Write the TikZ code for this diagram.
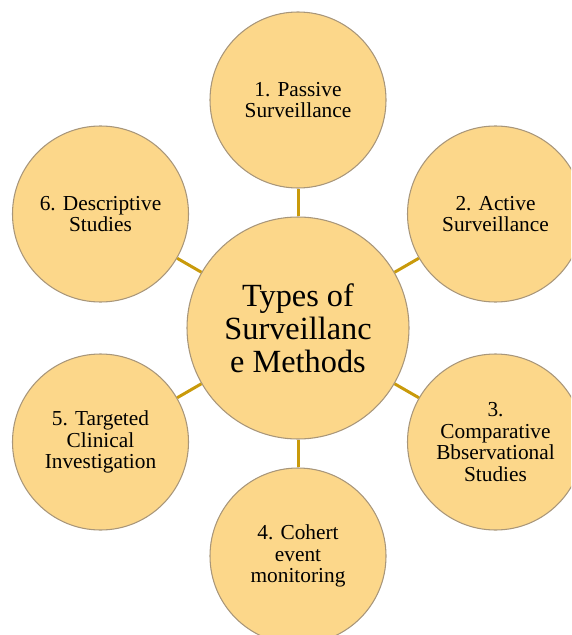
\documentclass[tikz,border=0pt]{standalone}
\usepackage{fontspec}
\setmainfont{Liberation Serif}
\usepackage{xcolor}
\definecolor{petal}{HTML}{FCD78A}
\definecolor{rim}{HTML}{A8967A}
\definecolor{stem}{HTML}{C99A0B}
\usetikzlibrary{positioning,shapes}

\begin{document}
\begin{tikzpicture}[x=0.75pt,y=-0.75pt,
    type/.style={circle,draw=rim,fill=petal,line width=0.8pt,minimum size=132pt,inner sep=0pt,align=center,font=\fontsize{16}{16.25}\selectfont},
    hub/.style={circle,draw=rim,fill=petal,line width=0.8pt,minimum size=166.5pt,inner sep=0pt,align=center,font=\fontsize{24.25}{24.75}\selectfont},
    link/.style={draw=stem,line width=2.25pt}]
\useasboundingbox (0,0) rectangle (571,635);
\clip (0,0) rectangle (571,635);
    \node[hub] (Types) at (298,328) {Types of\\Surveillanc\\e Methods};
    \node[type] (Passive) at (298,100) {1. Passive\\Surveillance};
    \node[type] (Active) at (495.5,214) {2. Active\\Surveillance};
    \node[type] (Compare) at (495.5,442) {3.\\Comparative\\Bbservational\\Studies};
    \node[type] (Cohort) at (298,556) {4. Cohert\\event\\monitoring};
    \node[type] (Targeted) at (100.5,442) {5. Targeted\\Clinical\\Investigation};
    \node[type] (Descr) at (100.5,214) {6. Descriptive\\Studies};
    \draw[link] (Types) -- (Passive);
    \draw[link] (Types) -- (Active);
    \draw[link] (Types) -- (Compare);
    \draw[link] (Types) -- (Cohort);
    \draw[link] (Types) -- (Targeted);
    \draw[link] (Types) -- (Descr);
\end{tikzpicture}
\end{document}
